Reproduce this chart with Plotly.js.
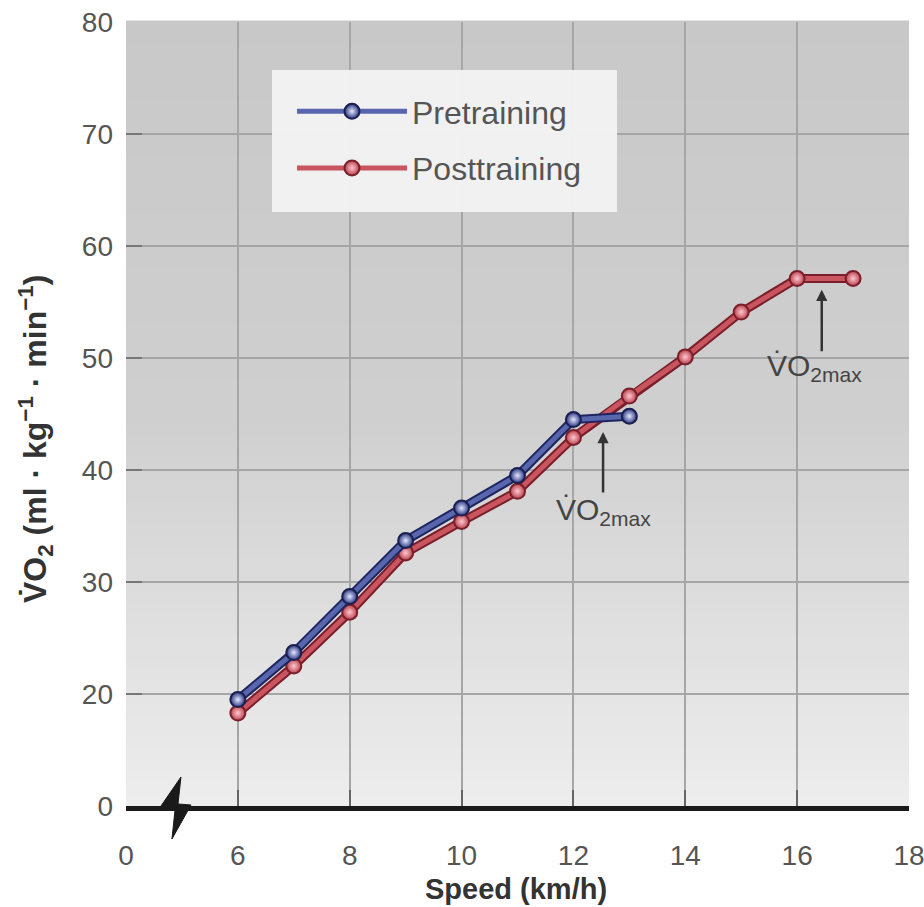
<!DOCTYPE html>
<html><head><meta charset="utf-8">
<script src="https://cdn.plot.ly/plotly-3.0.1.min.js"></script>
<style>html,body{margin:0;padding:0;background:#fff}#chart{width:924px;height:907px}</style>
</head><body><div id="chart"></div>
<script>
// ---- data ----
const speedPre = [6, 7, 8, 9, 10, 11, 12, 13];
const vo2Pre = [19.5, 23.7, 28.7, 33.7, 36.6, 39.5, 44.5, 44.8];
const speedPost = [6, 7, 8, 9, 10, 11, 12, 13, 14, 15, 16, 17];
const vo2Post = [18.3, 22.5, 27.3, 32.6, 35.4, 38.1, 42.9, 46.6, 50.1, 54.1, 57.1, 57.1];
const xTickVals = [4, 6, 8, 10, 12, 14, 16, 18];
const xTickText = ['0', '6', '8', '10', '12', '14', '16', '18'];
const yTickVals = [10, 20, 30, 40, 50, 60, 70, 80];
const yTickText = ['0', '20', '30', '40', '50', '60', '70', '80'];
const seriesNames = ['Pretraining', 'Posttraining'];
const xTitle = 'Speed (km/h)';
const yTitle = 'V\u0307O<sub>2</sub> (ml · kg<sup>\u22121</sup> · min<sup>\u22121</sup>)';
const vo2maxLabel = 'V\u0307O<sub>2max</sub>';
const vo2maxPre = [12.53, 43.4];
const vo2maxPost = [16.44, 56.1];

// ---- layout helpers (positions / styles) ----
const L = 126, R = 909, T = 22, B = 806;
const px = (x) => (x - L) / (R - L);
const py = (y) => (B - y) / (B - T);

const shapes = [];
const N = 70;
for (let i = 0; i < N; i++) {
  const t = (i + 0.5) / N; // 0 top .. 1 bottom
  let c = t < 0.5 ? 200 + t * 14 : 207 + (t - 0.5) / 0.5 * 30;
  c = Math.round(c);
  shapes.push({type: 'rect', xref: 'x domain', yref: 'y domain', x0: 0, x1: 1,
    y0: 1 - (i + 1) / N, y1: 1 - i / N + 0.002, fillcolor: `rgb(${c},${c},${c})`,
    line: {width: 0}, layer: 'below'});
}
// legend box
shapes.push({type: 'rect', xref: 'paper', yref: 'paper', x0: px(272), x1: px(617), y0: py(212), y1: py(70),
  fillcolor: 'rgba(243,243,243,0.96)', line: {width: 0}, layer: 'above'});
// axis break zigzag
const zz = [[159, 809], [181, 777], [178, 804], [191, 805], [172, 839], [175, 810]];
shapes.push({type: 'path', xref: 'paper', yref: 'paper',
  path: 'M' + zz.map(p => px(p[0]).toFixed(4) + ',' + py(p[1]).toFixed(4)).join(' L') + ' Z',
  fillcolor: '#1a1a1a', line: {color: '#1a1a1a', width: 1}, layer: 'above'});

const preOuter = '#1f2560', preMain = '#5866ad';
const postOuter = '#7a1f2a', postMain = '#c8555f';

const traces = [
  {x: speedPost, y: vo2Post, mode: 'lines', line: {color: postOuter, width: 9},
   showlegend: false, hoverinfo: 'skip'},
  {x: speedPost, y: vo2Post, mode: 'lines+markers', name: seriesNames[1], legendrank: 2, legendgroup: 'b',
   line: {color: postMain, width: 5},
   marker: {size: 15, color: '#b8404c', gradient: {type: 'radial', color: '#ffc8d0'}, line: {color: postOuter, width: 2}}},
  {x: speedPre, y: vo2Pre, mode: 'lines', line: {color: preOuter, width: 9},
   showlegend: false, hoverinfo: 'skip'},
  {x: speedPre, y: vo2Pre, mode: 'lines+markers', name: seriesNames[0], legendrank: 1, legendgroup: 'a',
   line: {color: preMain, width: 5},
   marker: {size: 15, color: '#2a3580', gradient: {type: 'radial', color: '#e4e8ff'}, line: {color: '#1a1f50', width: 2}}}
];

const fam = 'Liberation Sans, Arial, sans-serif';
const annFont = {family: fam, size: 30, color: '#444'};
const layout = {
  width: 924, height: 907,
  margin: {l: L, r: 924 - R, t: T, b: 907 - B},
  paper_bgcolor: '#ffffff', plot_bgcolor: 'rgba(0,0,0,0)',
  font: {family: fam, color: '#555'},
  showlegend: true,
  legend: {x: px(292), y: py(84), xanchor: 'left', yanchor: 'top',
    bgcolor: 'rgba(0,0,0,0)', borderwidth: 0,
    font: {size: 32, color: '#555'}, itemwidth: 110,
    traceorder: 'grouped', tracegroupgap: 12},
  xaxis: {range: [4, 18], tickvals: xTickVals, ticktext: xTickText,
    ticks: 'inside', ticklen: 16, tickwidth: 2, tickcolor: '#666',
    showgrid: true, gridcolor: '#a6a6a6', gridwidth: 2,
    showline: true, linecolor: '#1a1a1a', linewidth: 5, zeroline: false,
    tickfont: {size: 28, color: '#555'}, ticklabelstandoff: 20, ticklabeloverflow: 'allow'},
  yaxis: {range: [10, 80], tickvals: yTickVals, ticktext: yTickText,
    ticks: 'inside', ticklen: 16, tickwidth: 2, tickcolor: '#777',
    showgrid: true, gridcolor: '#a6a6a6', gridwidth: 2,
    showline: false, zeroline: false,
    tickfont: {size: 28, color: '#555'}, ticklabelstandoff: 12},
  shapes: shapes,
  annotations: [
    {xref: 'paper', yref: 'paper', x: px(516), y: py(889), text: '<b>' + xTitle + '</b>', showarrow: false,
     xanchor: 'center', yanchor: 'middle', font: {family: fam, size: 29, color: '#333'}},
    {xref: 'paper', yref: 'paper', x: px(35), y: py(439), text: '<b>' + yTitle + '</b>', showarrow: false,
     textangle: -90, xanchor: 'center', yanchor: 'middle', font: {family: fam, size: 32, color: '#333'}},
    {x: vo2maxPre[0], y: vo2maxPre[1], xref: 'x', yref: 'y', text: '', showarrow: true,
     ax: 0, ay: 62, arrowhead: 2, arrowsize: 0.9, arrowwidth: 2.5, arrowcolor: '#333'},
    {x: vo2maxPre[0], y: vo2maxPre[1], xref: 'x', yref: 'y', text: vo2maxLabel, showarrow: false,
     yshift: -80, font: annFont},
    {x: vo2maxPost[0], y: vo2maxPost[1], xref: 'x', yref: 'y', text: '', showarrow: true,
     ax: 0, ay: 63, arrowhead: 2, arrowsize: 0.9, arrowwidth: 2.5, arrowcolor: '#333'},
    {x: vo2maxPost[0], y: vo2maxPost[1], xref: 'x', yref: 'y', text: vo2maxLabel, showarrow: false,
     xshift: -7, yshift: -78, font: annFont}
  ]
};
Plotly.newPlot('chart', traces, layout, {displayModeBar: false, staticPlot: true});
</script></body></html>
